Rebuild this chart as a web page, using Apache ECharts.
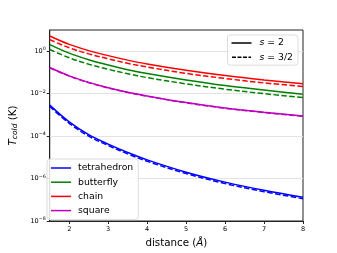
<!DOCTYPE html>
<html>
<head>
<meta charset="utf-8">
<script src="https://cdn.jsdelivr.net/npm/echarts@6/dist/echarts.min.js"></script>
<style>html,body{margin:0;padding:0;background:#fff}#c{width:337px;height:253px}</style>
</head>
<body>
<div id="c"></div>
<script>
const distance = [1.5, 2, 2.5, 3, 3.5, 4, 5, 6, 7, 8];
const xTicks = [2, 3, 4, 5, 6, 7, 8];
const yTicks = [1e-8, 1e-6, 1e-4, 1e-2, 1];

const tetrahedronS2  = [2.9e-3, 4.7e-4, 1.17e-4, 4.2e-5, 1.7e-5, 7.6e-6, 2.0e-6, 6.8e-7, 2.8e-7, 1.32e-7];
const tetrahedronS32 = [2.5e-3, 4.0e-4, 1.0e-4, 3.6e-5, 1.46e-5, 6.5e-6, 1.72e-6, 5.8e-7, 2.4e-7, 1.13e-7];
const butterflyS2    = [2.04, 0.81, 0.40, 0.224, 0.135, 0.089, 0.044, 0.024, 0.0148, 0.0093];
const butterflyS32   = [1.2, 0.49, 0.245, 0.141, 0.087, 0.057, 0.029, 0.0162, 0.010, 0.0066];
const chainS2        = [5.2, 2.1, 1.07, 0.62, 0.38, 0.25, 0.126, 0.071, 0.044, 0.029];
const chainS32       = [3.5, 1.45, 0.75, 0.44, 0.27, 0.18, 0.09, 0.052, 0.032, 0.022];
const squareS2       = [0.17, 0.069, 0.034, 0.019, 0.0117, 0.0078, 0.0038, 0.0021, 0.00132, 0.00089];
const squareS32      = [0.165, 0.067, 0.033, 0.0185, 0.0114, 0.0076, 0.0037, 0.00205, 0.00129, 0.00087];

const names = ['tetrahedron', 'butterfly', 'chain', 'square'];
const colors = ['#0000ff', '#008000', '#ff0000', '#bf00bf'];
const solid = [tetrahedronS2, butterflyS2, chainS2, squareS2];
const dashed = [tetrahedronS32, butterflyS32, chainS32, squareS32];

const pair = arr => arr.map((v, i) => [distance[i], v]);
const series = [];
names.forEach((n, i) => {
  series.push({name: n, type: 'line', data: pair(solid[i]), symbol: 'none', showSymbol: false, smooth: 0.35,
    lineStyle: {color: colors[i], width: 1.5}, itemStyle: {color: colors[i]}, z: 3});
  series.push({name: n + ' (s=3/2)', type: 'line', data: pair(dashed[i]), symbol: 'none', showSymbol: false, smooth: 0.35,
    lineStyle: {color: colors[i], width: 1.5, type: [5.5, 2.4]}, itemStyle: {color: colors[i]}, z: 3});
});
series.push({name: 's2', type: 'line', data: [], symbol: 'none', lineStyle: {color: '#000', width: 1.5}, itemStyle: {color: '#000'}});
series.push({name: 's32', type: 'line', data: [], symbol: 'none', lineStyle: {color: '#000', width: 1.5, type: [5.5, 2.4]}, itemStyle: {color: '#000'}});

const solidIcon = 'path://M0,0H20V1.5H0Z';
const dashIcon = 'path://M0,0H4V1.5H0Z M5.5,0H9.5V1.5H5.5Z M11,0H15V1.5H11Z M16.5,0H19V1.5H16.5Z';

const chart = echarts.init(document.getElementById('c'), null, {renderer: 'canvas'});
const font = 'DejaVu Sans';
chart.setOption({
  animation: false,
  backgroundColor: '#fff',
  textStyle: {fontFamily: font},
  grid: {left: 42, right: 34, top: 30, bottom: 28, show: true, borderColor: '#222', borderWidth: 1, containLabel: false},
  xAxis: {
    type: 'value', min: 1.5, max: 8,
    name: 'distance ({i|Å})', nameLocation: 'middle', nameGap: 17,
    nameTextStyle: {fontSize: 10.3, color: '#000', fontFamily: font, rich: {i: {fontStyle: 'italic', fontSize: 10.3, fontFamily: font, color: '#000'}}},
    axisLine: {show: true, lineStyle: {color: '#222', width: 1}},
    axisTick: {show: true, length: 3, customValues: xTicks, lineStyle: {color: '#222'}},
    axisLabel: {customValues: xTicks, fontSize: 6.5, color: '#000', margin: 5, fontFamily: font},
    splitLine: {show: false}
  },
  yAxis: {
    type: 'log', logBase: 10, min: 1e-8, max: 10,
    name: '{t|T}{sub|cold} (K)', nameLocation: 'middle', nameGap: 23,
    nameTextStyle: {fontSize: 10.3, color: '#000', fontFamily: font,
      rich: {t: {fontStyle: 'italic', fontSize: 10.3, fontFamily: font, color: '#000'},
             sub: {fontStyle: 'italic', fontSize: 7.5, fontFamily: font, color: '#000', padding: [5, 0, 0, 0]}}},
    axisLine: {show: true, lineStyle: {color: '#222', width: 1}},
    axisTick: {show: true, length: 3, customValues: yTicks, lineStyle: {color: '#222'}},
    axisLabel: {
      customValues: yTicks, margin: 4, fontFamily: font,
      formatter: v => {
        const e = Math.round(Math.log10(v));
        return '{b|10}{s|' + (e < 0 ? '\u2212' + (-e) : e) + '}';
      },
      rich: {b: {fontSize: 6.5, color: '#000', fontFamily: font},
             s: {fontSize: 4.8, color: '#000', fontFamily: font, padding: [0, 0, 4, 0]}}
    },
    splitLine: {show: true, lineStyle: {color: '#e3e3e3', width: 1}}
  },
  legend: [
    {
      data: names.map(n => ({name: n, icon: solidIcon})), orient: 'vertical', left: 47, top: 159, selectedMode: false,
      itemWidth: 20, itemHeight: 1.5, itemGap: 4.2,
      backgroundColor: 'rgba(255,255,255,0.85)', borderColor: '#dcdcdc', borderWidth: 1, borderRadius: 3,
      padding: [4, 5, 4, 4],
      textStyle: {fontSize: 9.3, color: '#000', fontFamily: font, padding: [0, 0, 0, 2], lineHeight: 10}
    },
    {
      data: [{name: 's2', icon: solidIcon}, {name: 's32', icon: dashIcon}], orient: 'vertical', right: 39, top: 35, selectedMode: false,
      itemWidth: 20, itemHeight: 1.5, itemGap: 4.2,
      backgroundColor: 'rgba(255,255,255,0.85)', borderColor: '#dcdcdc', borderWidth: 1, borderRadius: 3,
      padding: [3, 5, 3, 4],
      formatter: n => n === 's2' ? '{i|s} = 2' : '{i|s} = 3/2',
      textStyle: {fontSize: 9.3, color: '#000', fontFamily: font, padding: [0, 0, 0, 3], lineHeight: 10,
        rich: {i: {fontStyle: 'italic', fontSize: 9.3, color: '#000', fontFamily: font}}}
    }
  ],
  series: series
});
</script>
</body>
</html>
